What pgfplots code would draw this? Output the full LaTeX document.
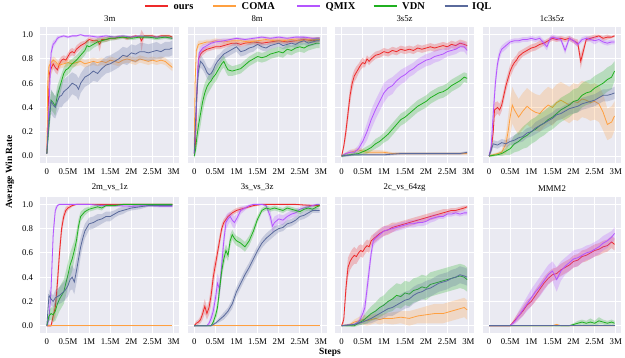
\documentclass[border=0pt]{standalone}
\usepackage{fontspec}
\setmainfont{Liberation Serif}
\usepackage{pgfplots}
\pgfplotsset{compat=1.18}
\usepackage{pgfplotstable}

\definecolor{bgc}{HTML}{EAEAF2}
\definecolor{cours}{HTML}{EE2A2A}
\definecolor{ccoma}{HTML}{FFA040}
\definecolor{cqmix}{HTML}{B455FF}
\definecolor{cvdn}{HTML}{20B020}
\definecolor{ciql}{HTML}{5A6A9C}

% band outline: y+s forward, then y-s backward
\newcommand{\mkband}[2]{%
  \pgfplotstablesort[sort key=x, sort cmp=float <]{#2}{#1}%
  \pgfplotstablecreatecol[create col/expr={\thisrow{y}+\thisrow{s}}]{p}{#2}%
  \pgfplotstablesort[sort key=x, sort cmp=float >]{\mkbandtmp}{#1}%
  \pgfplotstablecreatecol[create col/expr={\thisrow{y}-\thisrow{s}}]{p}{\mkbandtmp}%
  \pgfplotstablevertcat{#2}{\mkbandtmp}%
}

% ---------------- 3m ----------------
\pgfplotstableread[row sep=\\]{x y s\\
0 0.02 0.02\\ 0.03 0.35 0.1\\ 0.06 0.68 0.06\\ 0.1 0.72 0.05\\ 0.15 0.76 0.04\\ 0.2 0.73 0.04\\ 0.25 0.71 0.04\\ 0.3 0.76 0.04\\ 0.35 0.79 0.03\\ 0.4 0.80 0.03\\ 0.45 0.79 0.03\\ 0.5 0.82 0.03\\ 0.55 0.85 0.03\\ 0.6 0.86 0.03\\ 0.65 0.85 0.03\\ 0.7 0.88 0.03\\ 0.8 0.91 0.03\\ 0.9 0.93 0.02\\ 1.0 0.96 0.02\\ 1.1 0.95 0.02\\ 1.2 0.95 0.02\\ 1.25 0.92 0.06\\ 1.3 0.96 0.02\\ 1.4 0.96 0.02\\ 1.5 0.97 0.015\\ 1.6 0.97 0.015\\ 1.7 0.98 0.015\\ 1.8 0.98 0.01\\ 1.9 0.97 0.015\\ 2.0 0.98 0.01\\ 2.1 0.99 0.01\\ 2.2 0.98 0.01\\ 2.24 0.95 0.09\\ 2.3 0.99 0.01\\ 2.4 0.99 0.01\\ 2.5 0.99 0.01\\ 2.6 0.98 0.01\\ 2.7 0.99 0.01\\ 2.8 0.99 0.01\\ 2.9 0.99 0.01\\ 2.97 0.98 0.01\\
}\Aours
\pgfplotstableread[row sep=\\]{x y s\\
0 0.02 0.02\\ 0.02 0.6 0.1\\ 0.05 0.74 0.04\\ 0.1 0.77 0.03\\ 0.15 0.79 0.03\\ 0.2 0.78 0.03\\ 0.25 0.76 0.03\\ 0.3 0.75 0.03\\ 0.4 0.76 0.03\\ 0.5 0.77 0.03\\ 0.6 0.76 0.03\\ 0.7 0.77 0.03\\ 0.8 0.78 0.03\\ 0.9 0.76 0.03\\ 1.0 0.77 0.03\\ 1.1 0.78 0.03\\ 1.2 0.77 0.03\\ 1.3 0.78 0.03\\ 1.4 0.77 0.03\\ 1.5 0.79 0.03\\ 1.6 0.78 0.03\\ 1.7 0.77 0.03\\ 1.8 0.79 0.03\\ 1.9 0.80 0.03\\ 2.0 0.79 0.03\\ 2.1 0.78 0.03\\ 2.2 0.80 0.03\\ 2.3 0.79 0.03\\ 2.4 0.78 0.03\\ 2.5 0.79 0.03\\ 2.6 0.78 0.03\\ 2.7 0.79 0.03\\ 2.8 0.78 0.03\\ 2.9 0.75 0.03\\ 2.97 0.73 0.03\\
}\Acoma
\pgfplotstableread[row sep=\\]{x y s\\
0 0.02 0.02\\ 0.05 0.4 0.1\\ 0.1 0.85 0.05\\ 0.15 0.92 0.03\\ 0.2 0.94 0.02\\ 0.25 0.97 0.02\\ 0.3 0.98 0.01\\ 0.4 0.99 0.01\\ 0.5 0.98 0.01\\ 0.6 0.99 0.01\\ 0.7 0.99 0.01\\ 0.8 1.0 0.005\\ 0.9 0.99 0.01\\ 1.0 0.99 0.01\\ 1.2 0.98 0.01\\ 1.4 0.99 0.01\\ 1.6 0.98 0.01\\ 1.8 0.99 0.01\\ 2.0 0.98 0.01\\ 2.2 0.99 0.01\\ 2.4 0.98 0.01\\ 2.6 0.98 0.01\\ 2.8 0.98 0.01\\ 2.97 0.97 0.01\\
}\Aqmix
\pgfplotstableread[row sep=\\]{x y s\\
0 0.02 0.02\\ 0.05 0.25 0.08\\ 0.1 0.46 0.08\\ 0.15 0.44 0.08\\ 0.2 0.41 0.08\\ 0.25 0.50 0.08\\ 0.3 0.56 0.07\\ 0.35 0.62 0.06\\ 0.4 0.68 0.05\\ 0.45 0.71 0.05\\ 0.5 0.72 0.05\\ 0.55 0.74 0.05\\ 0.6 0.76 0.04\\ 0.7 0.79 0.04\\ 0.8 0.83 0.04\\ 0.9 0.87 0.04\\ 0.95 0.91 0.05\\ 1.0 0.90 0.04\\ 1.1 0.92 0.03\\ 1.2 0.94 0.03\\ 1.3 0.95 0.02\\ 1.4 0.96 0.02\\ 1.5 0.97 0.02\\ 1.6 0.97 0.015\\ 1.8 0.98 0.015\\ 2.0 0.97 0.015\\ 2.2 0.98 0.015\\ 2.4 0.98 0.015\\ 2.6 0.97 0.015\\ 2.8 0.98 0.015\\ 2.97 0.97 0.015\\
}\Avdn
\pgfplotstableread[row sep=\\]{x y s\\
0 0.02 0.02\\ 0.05 0.3 0.1\\ 0.1 0.45 0.1\\ 0.15 0.42 0.1\\ 0.2 0.40 0.09\\ 0.25 0.45 0.09\\ 0.3 0.49 0.09\\ 0.35 0.50 0.1\\ 0.4 0.53 0.1\\ 0.5 0.56 0.1\\ 0.6 0.60 0.09\\ 0.7 0.58 0.09\\ 0.75 0.55 0.09\\ 0.8 0.60 0.08\\ 0.9 0.65 0.08\\ 1.0 0.67 0.08\\ 1.1 0.70 0.08\\ 1.2 0.68 0.07\\ 1.3 0.72 0.07\\ 1.4 0.75 0.07\\ 1.5 0.76 0.07\\ 1.6 0.78 0.07\\ 1.7 0.80 0.07\\ 1.8 0.83 0.07\\ 1.9 0.82 0.07\\ 2.0 0.85 0.07\\ 2.1 0.84 0.07\\ 2.2 0.86 0.07\\ 2.3 0.86 0.07\\ 2.4 0.85 0.07\\ 2.5 0.86 0.07\\ 2.6 0.87 0.07\\ 2.7 0.86 0.06\\ 2.8 0.88 0.06\\ 2.9 0.88 0.06\\ 2.97 0.89 0.06\\
}\Aiql

% ---------------- 8m ----------------
\pgfplotstableread[row sep=\\]{x y s\\
0 0.02 0.02\\ 0.03 0.1 0.05\\ 0.06 0.5 0.1\\ 0.1 0.80 0.05\\ 0.15 0.84 0.03\\ 0.2 0.86 0.03\\ 0.3 0.88 0.02\\ 0.4 0.89 0.02\\ 0.5 0.90 0.02\\ 0.6 0.90 0.02\\ 0.7 0.91 0.02\\ 0.8 0.92 0.02\\ 0.9 0.93 0.02\\ 1.0 0.93 0.02\\ 1.1 0.92 0.02\\ 1.2 0.93 0.02\\ 1.4 0.94 0.02\\ 1.6 0.93 0.02\\ 1.8 0.94 0.02\\ 2.0 0.95 0.02\\ 2.2 0.94 0.02\\ 2.4 0.95 0.02\\ 2.6 0.96 0.02\\ 2.8 0.95 0.02\\ 2.97 0.96 0.02\\
}\Bours
\pgfplotstableread[row sep=\\]{x y s\\
0 0.05 0.05\\ 0.02 0.6 0.1\\ 0.05 0.87 0.04\\ 0.1 0.92 0.03\\ 0.2 0.93 0.02\\ 0.3 0.94 0.02\\ 0.4 0.94 0.02\\ 0.5 0.95 0.02\\ 0.7 0.94 0.02\\ 0.9 0.95 0.02\\ 1.1 0.95 0.02\\ 1.3 0.94 0.02\\ 1.5 0.95 0.02\\ 1.7 0.96 0.02\\ 1.9 0.95 0.02\\ 2.1 0.95 0.02\\ 2.3 0.96 0.02\\ 2.5 0.95 0.02\\ 2.7 0.96 0.02\\ 2.97 0.96 0.02\\
}\Bcoma
\pgfplotstableread[row sep=\\]{x y s\\
0 0.02 0.02\\ 0.04 0.3 0.1\\ 0.08 0.70 0.08\\ 0.12 0.85 0.04\\ 0.2 0.89 0.03\\ 0.3 0.91 0.02\\ 0.4 0.93 0.02\\ 0.5 0.94 0.02\\ 0.7 0.95 0.02\\ 0.85 0.96 0.01\\ 1.0 0.97 0.01\\ 1.2 0.96 0.01\\ 1.4 0.97 0.01\\ 1.6 0.98 0.01\\ 1.8 0.97 0.01\\ 2.0 0.98 0.01\\ 2.2 0.97 0.01\\ 2.4 0.98 0.01\\ 2.6 0.98 0.01\\ 2.8 0.97 0.01\\ 2.97 0.97 0.01\\
}\Bqmix
\pgfplotstableread[row sep=\\]{x y s\\
0 0.0 0.02\\ 0.03 0.05 0.04\\ 0.06 0.15 0.08\\ 0.1 0.25 0.1\\ 0.15 0.35 0.1\\ 0.2 0.45 0.09\\ 0.25 0.52 0.08\\ 0.3 0.57 0.07\\ 0.35 0.60 0.07\\ 0.4 0.62 0.06\\ 0.45 0.65 0.06\\ 0.5 0.67 0.06\\ 0.55 0.70 0.06\\ 0.6 0.73 0.05\\ 0.65 0.76 0.05\\ 0.7 0.78 0.05\\ 0.75 0.74 0.05\\ 0.8 0.71 0.05\\ 0.9 0.70 0.04\\ 1.0 0.71 0.04\\ 1.1 0.72 0.04\\ 1.2 0.75 0.04\\ 1.3 0.78 0.04\\ 1.4 0.80 0.04\\ 1.5 0.82 0.04\\ 1.6 0.81 0.04\\ 1.7 0.82 0.04\\ 1.8 0.84 0.04\\ 1.9 0.85 0.04\\ 2.0 0.86 0.04\\ 2.1 0.85 0.04\\ 2.2 0.88 0.04\\ 2.3 0.87 0.04\\ 2.4 0.89 0.04\\ 2.5 0.90 0.04\\ 2.6 0.89 0.04\\ 2.7 0.91 0.04\\ 2.8 0.92 0.04\\ 2.9 0.93 0.04\\ 2.97 0.93 0.04\\
}\Bvdn
\pgfplotstableread[row sep=\\]{x y s\\
0 0.02 0.02\\ 0.05 0.45 0.1\\ 0.1 0.70 0.06\\ 0.15 0.78 0.05\\ 0.2 0.76 0.05\\ 0.25 0.73 0.05\\ 0.3 0.69 0.05\\ 0.35 0.67 0.05\\ 0.4 0.68 0.05\\ 0.45 0.71 0.05\\ 0.5 0.75 0.05\\ 0.55 0.78 0.05\\ 0.6 0.80 0.04\\ 0.7 0.84 0.04\\ 0.8 0.86 0.04\\ 0.9 0.88 0.04\\ 1.0 0.90 0.04\\ 1.1 0.86 0.04\\ 1.2 0.87 0.04\\ 1.3 0.89 0.04\\ 1.4 0.90 0.04\\ 1.5 0.92 0.03\\ 1.6 0.90 0.03\\ 1.7 0.89 0.03\\ 1.8 0.91 0.03\\ 1.9 0.92 0.03\\ 2.0 0.93 0.03\\ 2.1 0.91 0.03\\ 2.2 0.92 0.03\\ 2.3 0.93 0.03\\ 2.4 0.92 0.03\\ 2.5 0.94 0.03\\ 2.6 0.95 0.03\\ 2.7 0.93 0.03\\ 2.8 0.94 0.03\\ 2.9 0.95 0.03\\ 2.97 0.95 0.03\\
}\Biql

% ---------------- 3s5z ----------------
\pgfplotstableread[row sep=\\]{x y s\\
0 0.0 0.01\\ 0.05 0.08 0.03\\ 0.1 0.20 0.06\\ 0.15 0.35 0.07\\ 0.2 0.50 0.07\\ 0.25 0.60 0.06\\ 0.3 0.66 0.05\\ 0.35 0.69 0.05\\ 0.4 0.72 0.04\\ 0.45 0.75 0.04\\ 0.5 0.77 0.04\\ 0.55 0.76 0.03\\ 0.6 0.80 0.03\\ 0.65 0.78 0.03\\ 0.7 0.80 0.03\\ 0.8 0.83 0.03\\ 0.9 0.84 0.03\\ 1.0 0.86 0.03\\ 1.1 0.85 0.03\\ 1.2 0.87 0.03\\ 1.3 0.86 0.03\\ 1.4 0.88 0.03\\ 1.5 0.87 0.03\\ 1.6 0.88 0.03\\ 1.7 0.87 0.03\\ 1.8 0.89 0.03\\ 1.9 0.88 0.03\\ 2.0 0.89 0.03\\ 2.1 0.90 0.03\\ 2.2 0.89 0.03\\ 2.3 0.90 0.03\\ 2.4 0.91 0.03\\ 2.5 0.90 0.03\\ 2.6 0.92 0.03\\ 2.7 0.91 0.03\\ 2.8 0.93 0.03\\ 2.9 0.92 0.03\\ 2.97 0.91 0.03\\
}\Cours
\pgfplotstableread[row sep=\\]{x y s\\
0 0.0 0.01\\ 0.1 0.02 0.01\\ 0.2 0.03 0.02\\ 0.3 0.04 0.02\\ 0.4 0.05 0.02\\ 0.5 0.04 0.02\\ 0.6 0.03 0.02\\ 0.8 0.03 0.02\\ 1.0 0.03 0.015\\ 1.2 0.02 0.01\\ 1.5 0.02 0.01\\ 1.8 0.02 0.01\\ 2.0 0.02 0.01\\ 2.3 0.02 0.01\\ 2.6 0.02 0.01\\ 2.97 0.02 0.01\\
}\Ccoma
\pgfplotstableread[row sep=\\]{x y s\\
0 0.0 0.01\\ 0.1 0.02 0.01\\ 0.2 0.03 0.02\\ 0.3 0.03 0.02\\ 0.4 0.06 0.03\\ 0.5 0.12 0.05\\ 0.55 0.16 0.06\\ 0.6 0.20 0.07\\ 0.7 0.30 0.08\\ 0.8 0.38 0.08\\ 0.9 0.45 0.08\\ 1.0 0.52 0.08\\ 1.1 0.56 0.07\\ 1.2 0.58 0.07\\ 1.3 0.62 0.06\\ 1.4 0.65 0.06\\ 1.5 0.67 0.06\\ 1.6 0.70 0.05\\ 1.7 0.72 0.05\\ 1.8 0.75 0.05\\ 1.9 0.77 0.05\\ 2.0 0.79 0.05\\ 2.1 0.80 0.05\\ 2.2 0.82 0.05\\ 2.3 0.83 0.05\\ 2.4 0.84 0.04\\ 2.5 0.86 0.04\\ 2.6 0.87 0.04\\ 2.7 0.88 0.04\\ 2.8 0.90 0.04\\ 2.9 0.90 0.04\\ 2.97 0.87 0.04\\
}\Cqmix
\pgfplotstableread[row sep=\\]{x y s\\
0 0.0 0.01\\ 0.2 0.01 0.01\\ 0.4 0.02 0.02\\ 0.6 0.05 0.03\\ 0.7 0.07 0.03\\ 0.8 0.10 0.04\\ 0.9 0.12 0.04\\ 1.0 0.15 0.04\\ 1.1 0.18 0.05\\ 1.2 0.22 0.05\\ 1.3 0.26 0.05\\ 1.4 0.30 0.05\\ 1.5 0.32 0.05\\ 1.6 0.35 0.05\\ 1.7 0.38 0.05\\ 1.8 0.41 0.05\\ 1.9 0.43 0.05\\ 2.0 0.45 0.05\\ 2.1 0.48 0.05\\ 2.2 0.50 0.05\\ 2.3 0.52 0.05\\ 2.4 0.53 0.05\\ 2.5 0.55 0.05\\ 2.6 0.58 0.05\\ 2.7 0.60 0.05\\ 2.8 0.62 0.05\\ 2.9 0.65 0.04\\ 2.97 0.64 0.04\\
}\Cvdn
\pgfplotstableread[row sep=\\]{x y s\\
0 0.0 0.01\\ 0.3 0.01 0.01\\ 0.6 0.01 0.01\\ 1.0 0.01 0.01\\ 1.4 0.02 0.01\\ 1.8 0.02 0.01\\ 2.2 0.02 0.01\\ 2.6 0.02 0.01\\ 2.8 0.02 0.01\\ 2.97 0.03 0.01\\
}\Ciql

% ---------------- 1c3s5z ----------------
\pgfplotstableread[row sep=\\]{x y s\\
0 0.0 0.01\\ 0.05 0.05 0.02\\ 0.1 0.20 0.06\\ 0.13 0.38 0.06\\ 0.2 0.40 0.05\\ 0.25 0.38 0.05\\ 0.3 0.42 0.05\\ 0.35 0.50 0.05\\ 0.4 0.58 0.05\\ 0.45 0.64 0.05\\ 0.5 0.70 0.05\\ 0.55 0.74 0.05\\ 0.6 0.77 0.04\\ 0.65 0.79 0.04\\ 0.7 0.82 0.04\\ 0.8 0.85 0.03\\ 0.9 0.87 0.03\\ 1.0 0.89 0.03\\ 1.1 0.90 0.03\\ 1.2 0.92 0.03\\ 1.3 0.93 0.02\\ 1.4 0.95 0.02\\ 1.5 0.97 0.02\\ 1.6 0.96 0.02\\ 1.7 0.97 0.02\\ 1.8 0.96 0.02\\ 1.9 0.97 0.02\\ 2.0 0.95 0.02\\ 2.1 0.93 0.03\\ 2.17 0.78 0.06\\ 2.3 0.96 0.02\\ 2.4 0.97 0.02\\ 2.5 0.98 0.02\\ 2.6 0.99 0.01\\ 2.7 0.97 0.02\\ 2.8 0.98 0.02\\ 2.9 0.98 0.01\\ 2.97 0.99 0.01\\
}\Dours
\pgfplotstableread[row sep=\\]{x y s\\
0 0.0 0.01\\ 0.2 0.02 0.01\\ 0.3 0.03 0.02\\ 0.4 0.10 0.08\\ 0.45 0.20 0.12\\ 0.5 0.32 0.15\\ 0.55 0.42 0.15\\ 0.6 0.38 0.15\\ 0.7 0.32 0.15\\ 0.8 0.37 0.15\\ 0.9 0.41 0.15\\ 1.0 0.38 0.15\\ 1.1 0.36 0.15\\ 1.2 0.35 0.15\\ 1.3 0.39 0.15\\ 1.4 0.42 0.15\\ 1.5 0.40 0.15\\ 1.6 0.44 0.15\\ 1.7 0.46 0.15\\ 1.8 0.44 0.15\\ 1.9 0.42 0.15\\ 2.0 0.45 0.15\\ 2.1 0.44 0.15\\ 2.2 0.47 0.15\\ 2.3 0.46 0.15\\ 2.4 0.44 0.15\\ 2.5 0.45 0.15\\ 2.6 0.43 0.15\\ 2.7 0.36 0.15\\ 2.8 0.26 0.13\\ 2.9 0.28 0.13\\ 2.97 0.33 0.12\\
}\Dcoma
\pgfplotstableread[row sep=\\]{x y s\\
0 0.0 0.01\\ 0.05 0.08 0.04\\ 0.1 0.35 0.1\\ 0.15 0.60 0.08\\ 0.2 0.76 0.05\\ 0.25 0.84 0.04\\ 0.3 0.88 0.03\\ 0.4 0.91 0.03\\ 0.5 0.94 0.02\\ 0.6 0.95 0.02\\ 0.7 0.95 0.02\\ 0.8 0.96 0.02\\ 0.9 0.96 0.02\\ 1.0 0.97 0.02\\ 1.1 0.96 0.02\\ 1.2 0.97 0.02\\ 1.37 0.90 0.03\\ 1.45 0.97 0.02\\ 1.5 0.98 0.02\\ 1.6 0.97 0.02\\ 1.7 0.96 0.02\\ 1.8 0.87 0.03\\ 1.9 0.97 0.02\\ 2.0 0.95 0.02\\ 2.1 0.92 0.02\\ 2.2 0.96 0.02\\ 2.3 0.97 0.02\\ 2.4 0.96 0.02\\ 2.5 0.95 0.03\\ 2.6 0.96 0.02\\ 2.7 0.94 0.02\\ 2.8 0.93 0.02\\ 2.9 0.94 0.02\\ 2.97 0.94 0.02\\
}\Dqmix
\pgfplotstableread[row sep=\\]{x y s\\
0 0.0 0.01\\ 0.2 0.01 0.01\\ 0.3 0.02 0.02\\ 0.4 0.04 0.03\\ 0.5 0.06 0.05\\ 0.6 0.10 0.07\\ 0.7 0.12 0.08\\ 0.8 0.15 0.09\\ 0.9 0.17 0.1\\ 1.0 0.20 0.1\\ 1.1 0.22 0.1\\ 1.2 0.25 0.1\\ 1.3 0.27 0.1\\ 1.4 0.30 0.1\\ 1.5 0.32 0.1\\ 1.6 0.35 0.1\\ 1.7 0.38 0.1\\ 1.8 0.40 0.1\\ 1.9 0.42 0.1\\ 2.0 0.45 0.1\\ 2.1 0.46 0.1\\ 2.2 0.50 0.1\\ 2.3 0.52 0.1\\ 2.4 0.53 0.1\\ 2.5 0.56 0.1\\ 2.6 0.58 0.1\\ 2.7 0.60 0.1\\ 2.8 0.63 0.1\\ 2.9 0.65 0.1\\ 2.97 0.70 0.08\\
}\Dvdn
\pgfplotstableread[row sep=\\]{x y s\\
0 0.0 0.01\\ 0.05 0.05 0.03\\ 0.1 0.10 0.03\\ 0.2 0.09 0.03\\ 0.3 0.11 0.03\\ 0.4 0.10 0.03\\ 0.5 0.12 0.03\\ 0.6 0.13 0.04\\ 0.7 0.15 0.04\\ 0.8 0.16 0.04\\ 0.9 0.19 0.04\\ 1.0 0.20 0.04\\ 1.1 0.23 0.05\\ 1.2 0.25 0.05\\ 1.3 0.27 0.05\\ 1.4 0.29 0.05\\ 1.5 0.31 0.05\\ 1.6 0.34 0.05\\ 1.7 0.35 0.05\\ 1.8 0.37 0.05\\ 1.9 0.39 0.05\\ 2.0 0.40 0.05\\ 2.1 0.41 0.05\\ 2.2 0.43 0.05\\ 2.3 0.44 0.05\\ 2.4 0.45 0.05\\ 2.5 0.46 0.05\\ 2.6 0.48 0.05\\ 2.7 0.50 0.05\\ 2.8 0.50 0.05\\ 2.9 0.51 0.05\\ 2.97 0.52 0.05\\
}\Diql

% ---------------- 2m_vs_1z ----------------
\pgfplotstableread[row sep=\\]{x y s\\
0 0.0 0.01\\ 0.1 0.0 0.01\\ 0.15 0.08 0.05\\ 0.2 0.15 0.08\\ 0.25 0.35 0.1\\ 0.3 0.60 0.08\\ 0.35 0.80 0.06\\ 0.4 0.90 0.04\\ 0.45 0.95 0.03\\ 0.5 0.97 0.02\\ 0.6 0.99 0.01\\ 0.7 1.0 0.005\\ 1.0 1.0 0.005\\ 1.5 1.0 0.005\\ 2.0 1.0 0.005\\ 2.5 1.0 0.005\\ 2.97 1.0 0.005\\
}\Eours
\pgfplotstableread[row sep=\\]{x y s\\
0 0.0 0.003\\ 1.0 0.0 0.003\\ 2.0 0.0 0.003\\ 2.97 0.0 0.003\\
}\Ecoma
\pgfplotstableread[row sep=\\]{x y s\\
0 0.0 0.01\\ 0.05 0.05 0.04\\ 0.1 0.30 0.1\\ 0.15 0.75 0.08\\ 0.2 0.95 0.03\\ 0.25 0.99 0.01\\ 0.3 1.0 0.005\\ 0.6 1.0 0.005\\ 1.0 1.0 0.005\\ 1.3 0.99 0.01\\ 1.6 0.99 0.01\\ 2.0 0.985 0.01\\ 2.4 0.99 0.01\\ 2.7 0.985 0.01\\ 2.97 0.985 0.01\\
}\Eqmix
\pgfplotstableread[row sep=\\]{x y s\\
0 0.0 0.01\\ 0.05 0.08 0.04\\ 0.1 0.10 0.05\\ 0.15 0.09 0.06\\ 0.2 0.12 0.08\\ 0.25 0.18 0.1\\ 0.3 0.22 0.1\\ 0.35 0.25 0.1\\ 0.4 0.28 0.1\\ 0.45 0.35 0.1\\ 0.5 0.42 0.1\\ 0.55 0.50 0.1\\ 0.6 0.55 0.1\\ 0.65 0.62 0.08\\ 0.7 0.70 0.08\\ 0.75 0.82 0.06\\ 0.8 0.90 0.04\\ 0.9 0.94 0.03\\ 1.0 0.96 0.02\\ 1.1 0.97 0.02\\ 1.2 0.98 0.02\\ 1.3 0.97 0.02\\ 1.4 0.99 0.01\\ 1.6 0.99 0.01\\ 1.8 1.0 0.005\\ 2.2 1.0 0.005\\ 2.6 1.0 0.005\\ 2.97 1.0 0.005\\
}\Evdn
\pgfplotstableread[row sep=\\]{x y s\\
0 0.0 0.01\\ 0.05 0.25 0.05\\ 0.1 0.22 0.05\\ 0.15 0.20 0.05\\ 0.2 0.23 0.06\\ 0.3 0.25 0.07\\ 0.4 0.28 0.08\\ 0.45 0.30 0.08\\ 0.5 0.33 0.09\\ 0.55 0.38 0.09\\ 0.6 0.40 0.1\\ 0.65 0.36 0.1\\ 0.7 0.45 0.1\\ 0.75 0.55 0.1\\ 0.8 0.65 0.08\\ 0.85 0.72 0.07\\ 0.9 0.78 0.06\\ 1.0 0.84 0.05\\ 1.1 0.85 0.05\\ 1.2 0.87 0.05\\ 1.3 0.88 0.04\\ 1.4 0.90 0.04\\ 1.5 0.90 0.04\\ 1.6 0.92 0.03\\ 1.7 0.94 0.03\\ 1.8 0.95 0.03\\ 1.9 0.96 0.02\\ 2.0 0.97 0.02\\ 2.2 0.98 0.02\\ 2.4 0.99 0.01\\ 2.6 0.99 0.01\\ 2.8 0.99 0.01\\ 2.97 0.99 0.01\\
}\Eiql

% ---------------- 3s_vs_3z ----------------
\pgfplotstableread[row sep=\\]{x y s\\
0 0.0 0.01\\ 0.05 0.02 0.02\\ 0.1 0.03 0.02\\ 0.15 0.05 0.03\\ 0.2 0.10 0.05\\ 0.25 0.16 0.06\\ 0.3 0.10 0.05\\ 0.35 0.15 0.06\\ 0.4 0.25 0.08\\ 0.45 0.40 0.08\\ 0.5 0.50 0.07\\ 0.55 0.60 0.06\\ 0.6 0.70 0.05\\ 0.65 0.80 0.04\\ 0.7 0.85 0.03\\ 0.8 0.90 0.02\\ 0.9 0.93 0.02\\ 1.0 0.95 0.02\\ 1.1 0.96 0.02\\ 1.2 0.97 0.01\\ 1.3 0.98 0.01\\ 1.4 0.99 0.01\\ 1.6 1.0 0.005\\ 2.0 1.0 0.005\\ 2.4 1.0 0.005\\ 2.8 0.99 0.01\\ 2.97 0.99 0.01\\
}\Fours
\pgfplotstableread[row sep=\\]{x y s\\
0 0.0 0.003\\ 1.0 0.0 0.003\\ 2.0 0.0 0.003\\ 2.97 0.0 0.003\\
}\Fcoma
\pgfplotstableread[row sep=\\]{x y s\\
0 0.0 0.005\\ 0.3 0.0 0.005\\ 0.35 0.02 0.02\\ 0.4 0.06 0.04\\ 0.45 0.12 0.06\\ 0.5 0.22 0.08\\ 0.55 0.35 0.08\\ 0.6 0.30 0.08\\ 0.65 0.50 0.1\\ 0.7 0.70 0.08\\ 0.75 0.85 0.06\\ 0.8 0.88 0.05\\ 0.85 0.90 0.04\\ 0.9 0.87 0.05\\ 0.95 0.85 0.05\\ 1.0 0.88 0.04\\ 1.1 0.95 0.03\\ 1.2 0.97 0.02\\ 1.3 0.99 0.01\\ 1.4 1.0 0.005\\ 1.5 1.0 0.005\\ 1.6 1.0 0.005\\ 1.7 0.99 0.01\\ 1.8 0.90 0.05\\ 1.85 0.82 0.05\\ 1.9 0.85 0.05\\ 2.0 0.88 0.04\\ 2.1 0.87 0.04\\ 2.2 0.90 0.03\\ 2.3 0.92 0.03\\ 2.4 0.93 0.03\\ 2.5 0.96 0.02\\ 2.6 0.97 0.02\\ 2.7 0.98 0.02\\ 2.8 0.99 0.01\\ 2.9 1.0 0.005\\ 2.97 1.0 0.005\\
}\Fqmix
\pgfplotstableread[row sep=\\]{x y s\\
0 0.0 0.005\\ 0.4 0.0 0.005\\ 0.45 0.03 0.02\\ 0.5 0.08 0.04\\ 0.55 0.15 0.05\\ 0.6 0.30 0.06\\ 0.65 0.45 0.06\\ 0.7 0.55 0.06\\ 0.75 0.62 0.05\\ 0.8 0.58 0.05\\ 0.85 0.70 0.05\\ 0.9 0.75 0.04\\ 0.95 0.72 0.04\\ 1.0 0.70 0.04\\ 1.1 0.68 0.04\\ 1.2 0.65 0.04\\ 1.3 0.70 0.04\\ 1.4 0.78 0.04\\ 1.5 0.88 0.03\\ 1.6 0.95 0.02\\ 1.7 0.97 0.02\\ 1.8 0.96 0.02\\ 1.9 0.97 0.02\\ 2.0 0.96 0.02\\ 2.1 0.95 0.02\\ 2.2 0.97 0.02\\ 2.3 0.96 0.02\\ 2.4 0.95 0.02\\ 2.5 0.94 0.02\\ 2.6 0.96 0.02\\ 2.7 0.97 0.02\\ 2.8 0.96 0.02\\ 2.9 0.98 0.02\\ 2.97 0.99 0.01\\
}\Fvdn
\pgfplotstableread[row sep=\\]{x y s\\
0 0.0 0.005\\ 0.4 0.0 0.005\\ 0.5 0.02 0.01\\ 0.6 0.05 0.02\\ 0.7 0.08 0.03\\ 0.8 0.12 0.03\\ 0.9 0.18 0.04\\ 1.0 0.28 0.04\\ 1.1 0.35 0.04\\ 1.2 0.42 0.04\\ 1.3 0.48 0.04\\ 1.4 0.55 0.04\\ 1.5 0.62 0.04\\ 1.6 0.68 0.04\\ 1.7 0.72 0.04\\ 1.8 0.75 0.04\\ 1.9 0.78 0.04\\ 2.0 0.80 0.03\\ 2.1 0.81 0.03\\ 2.2 0.84 0.03\\ 2.3 0.85 0.03\\ 2.4 0.87 0.03\\ 2.5 0.90 0.03\\ 2.6 0.91 0.03\\ 2.7 0.93 0.03\\ 2.8 0.95 0.02\\ 2.9 0.95 0.02\\ 2.97 0.95 0.02\\
}\Fiql

% ---------------- 2c_vs_64zg ----------------
\pgfplotstableread[row sep=\\]{x y s\\
0 0.0 0.01\\ 0.05 0.05 0.03\\ 0.1 0.30 0.08\\ 0.15 0.48 0.08\\ 0.2 0.53 0.07\\ 0.25 0.56 0.07\\ 0.3 0.58 0.07\\ 0.35 0.57 0.06\\ 0.4 0.60 0.06\\ 0.45 0.62 0.05\\ 0.5 0.61 0.05\\ 0.55 0.64 0.05\\ 0.6 0.66 0.05\\ 0.65 0.65 0.05\\ 0.7 0.70 0.04\\ 0.8 0.73 0.04\\ 0.9 0.76 0.04\\ 1.0 0.78 0.04\\ 1.1 0.79 0.04\\ 1.2 0.81 0.04\\ 1.3 0.82 0.03\\ 1.4 0.83 0.03\\ 1.5 0.84 0.03\\ 1.6 0.85 0.03\\ 1.7 0.86 0.03\\ 1.8 0.87 0.03\\ 1.9 0.88 0.03\\ 2.0 0.89 0.03\\ 2.1 0.90 0.03\\ 2.2 0.91 0.03\\ 2.3 0.92 0.03\\ 2.4 0.93 0.03\\ 2.5 0.94 0.02\\ 2.6 0.95 0.02\\ 2.7 0.95 0.02\\ 2.8 0.96 0.02\\ 2.9 0.97 0.02\\ 2.97 0.98 0.01\\
}\Gours
\pgfplotstableread[row sep=\\]{x y s\\
0 0.0 0.005\\ 0.2 0.01 0.01\\ 0.3 0.03 0.02\\ 0.4 0.04 0.03\\ 0.5 0.05 0.04\\ 0.6 0.04 0.04\\ 0.7 0.05 0.04\\ 0.8 0.06 0.04\\ 0.9 0.05 0.04\\ 1.0 0.06 0.04\\ 1.2 0.06 0.05\\ 1.4 0.07 0.05\\ 1.6 0.06 0.06\\ 1.8 0.08 0.06\\ 2.0 0.09 0.07\\ 2.2 0.10 0.08\\ 2.4 0.10 0.08\\ 2.6 0.12 0.08\\ 2.8 0.14 0.08\\ 2.9 0.15 0.08\\ 2.97 0.13 0.08\\
}\Gcoma
\pgfplotstableread[row sep=\\]{x y s\\
0 0.0 0.005\\ 0.3 0.01 0.01\\ 0.4 0.03 0.02\\ 0.45 0.06 0.04\\ 0.5 0.10 0.06\\ 0.55 0.15 0.07\\ 0.6 0.30 0.08\\ 0.65 0.45 0.08\\ 0.7 0.60 0.06\\ 0.75 0.70 0.05\\ 0.8 0.72 0.04\\ 0.9 0.75 0.04\\ 1.0 0.78 0.04\\ 1.1 0.79 0.03\\ 1.2 0.80 0.03\\ 1.3 0.81 0.03\\ 1.4 0.82 0.03\\ 1.5 0.83 0.03\\ 1.6 0.84 0.03\\ 1.7 0.84 0.03\\ 1.8 0.85 0.03\\ 1.9 0.85 0.03\\ 2.0 0.86 0.03\\ 2.1 0.88 0.03\\ 2.2 0.89 0.03\\ 2.3 0.90 0.02\\ 2.4 0.90 0.02\\ 2.5 0.92 0.02\\ 2.6 0.92 0.02\\ 2.7 0.93 0.02\\ 2.8 0.92 0.02\\ 2.9 0.93 0.02\\ 2.97 0.93 0.02\\
}\Gqmix
\pgfplotstableread[row sep=\\]{x y s\\
0 0.0 0.005\\ 0.3 0.0 0.01\\ 0.4 0.02 0.02\\ 0.5 0.04 0.03\\ 0.6 0.07 0.05\\ 0.7 0.10 0.06\\ 0.8 0.12 0.07\\ 0.9 0.15 0.08\\ 1.0 0.17 0.08\\ 1.1 0.20 0.09\\ 1.2 0.22 0.1\\ 1.3 0.25 0.1\\ 1.4 0.24 0.1\\ 1.5 0.27 0.1\\ 1.6 0.26 0.1\\ 1.7 0.29 0.1\\ 1.8 0.30 0.1\\ 1.9 0.32 0.1\\ 2.0 0.31 0.1\\ 2.1 0.34 0.1\\ 2.2 0.35 0.1\\ 2.3 0.36 0.1\\ 2.4 0.37 0.1\\ 2.5 0.38 0.1\\ 2.6 0.39 0.1\\ 2.7 0.40 0.1\\ 2.8 0.41 0.1\\ 2.9 0.40 0.1\\ 2.97 0.38 0.1\\
}\Gvdn
\pgfplotstableread[row sep=\\]{x y s\\
0 0.0 0.005\\ 0.3 0.01 0.01\\ 0.5 0.03 0.02\\ 0.7 0.06 0.04\\ 0.9 0.10 0.05\\ 1.0 0.12 0.06\\ 1.1 0.14 0.06\\ 1.2 0.15 0.07\\ 1.3 0.17 0.07\\ 1.4 0.19 0.07\\ 1.5 0.21 0.07\\ 1.6 0.22 0.07\\ 1.7 0.25 0.07\\ 1.8 0.27 0.07\\ 1.9 0.28 0.07\\ 2.0 0.30 0.07\\ 2.1 0.31 0.07\\ 2.2 0.33 0.07\\ 2.3 0.35 0.07\\ 2.4 0.36 0.07\\ 2.5 0.37 0.07\\ 2.6 0.39 0.07\\ 2.7 0.40 0.07\\ 2.8 0.42 0.07\\ 2.9 0.41 0.07\\ 2.97 0.40 0.07\\
}\Giql

% ---------------- MMM2 ----------------
\pgfplotstableread[row sep=\\]{x y s\\
0 0.0 0.005\\ 0.5 0.0 0.005\\ 0.55 0.02 0.01\\ 0.6 0.04 0.02\\ 0.7 0.08 0.03\\ 0.8 0.12 0.04\\ 0.9 0.17 0.04\\ 1.0 0.20 0.04\\ 1.1 0.25 0.05\\ 1.2 0.30 0.05\\ 1.3 0.35 0.05\\ 1.4 0.39 0.05\\ 1.5 0.42 0.05\\ 1.6 0.43 0.05\\ 1.7 0.46 0.05\\ 1.8 0.48 0.05\\ 1.9 0.50 0.05\\ 2.0 0.53 0.05\\ 2.1 0.54 0.05\\ 2.2 0.57 0.05\\ 2.3 0.58 0.05\\ 2.4 0.60 0.05\\ 2.5 0.62 0.05\\ 2.6 0.63 0.05\\ 2.7 0.65 0.05\\ 2.8 0.66 0.05\\ 2.9 0.69 0.05\\ 2.97 0.67 0.05\\
}\Hours
\pgfplotstableread[row sep=\\]{x y s\\
0 0.0 0.003\\ 1.5 0.0 0.003\\ 1.6 0.01 0.005\\ 1.7 0.0 0.003\\ 2.5 0.0 0.003\\ 2.97 0.0 0.003\\
}\Hcoma
\pgfplotstableread[row sep=\\]{x y s\\
0 0.0 0.005\\ 0.5 0.0 0.005\\ 0.6 0.03 0.02\\ 0.7 0.08 0.04\\ 0.8 0.13 0.05\\ 0.9 0.18 0.06\\ 1.0 0.23 0.07\\ 1.1 0.28 0.07\\ 1.2 0.32 0.08\\ 1.3 0.37 0.08\\ 1.4 0.42 0.08\\ 1.5 0.45 0.08\\ 1.6 0.38 0.1\\ 1.7 0.45 0.08\\ 1.8 0.49 0.07\\ 1.9 0.52 0.07\\ 2.0 0.55 0.07\\ 2.1 0.56 0.07\\ 2.2 0.58 0.06\\ 2.3 0.60 0.06\\ 2.4 0.61 0.06\\ 2.5 0.63 0.06\\ 2.6 0.65 0.06\\ 2.7 0.68 0.06\\ 2.8 0.70 0.06\\ 2.9 0.73 0.05\\ 2.97 0.76 0.05\\
}\Hqmix
\pgfplotstableread[row sep=\\]{x y s\\
0 0.0 0.003\\ 1.9 0.0 0.005\\ 2.0 0.01 0.01\\ 2.1 0.02 0.02\\ 2.2 0.03 0.02\\ 2.3 0.02 0.02\\ 2.4 0.03 0.03\\ 2.5 0.02 0.02\\ 2.6 0.04 0.03\\ 2.7 0.03 0.02\\ 2.8 0.02 0.02\\ 2.9 0.03 0.02\\ 2.97 0.02 0.02\\
}\Hvdn
\pgfplotstableread[row sep=\\]{x y s\\
0 0.0 0.003\\ 1.0 0.0 0.003\\ 2.0 0.0 0.003\\ 2.97 0.0 0.003\\
}\Hiql

% band outlines for every series
\mkband\Aours\Aoursb \mkband\Acoma\Acomab \mkband\Aqmix\Aqmixb \mkband\Avdn\Avdnb \mkband\Aiql\Aiqlb
\mkband\Bours\Boursb \mkband\Bcoma\Bcomab \mkband\Bqmix\Bqmixb \mkband\Bvdn\Bvdnb \mkband\Biql\Biqlb
\mkband\Cours\Coursb \mkband\Ccoma\Ccomab \mkband\Cqmix\Cqmixb \mkband\Cvdn\Cvdnb \mkband\Ciql\Ciqlb
\mkband\Dours\Doursb \mkband\Dcoma\Dcomab \mkband\Dqmix\Dqmixb \mkband\Dvdn\Dvdnb \mkband\Diql\Diqlb
\mkband\Eours\Eoursb \mkband\Ecoma\Ecomab \mkband\Eqmix\Eqmixb \mkband\Evdn\Evdnb \mkband\Eiql\Eiqlb
\mkband\Fours\Foursb \mkband\Fcoma\Fcomab \mkband\Fqmix\Fqmixb \mkband\Fvdn\Fvdnb \mkband\Fiql\Fiqlb
\mkband\Gours\Goursb \mkband\Gcoma\Gcomab \mkband\Gqmix\Gqmixb \mkband\Gvdn\Gvdnb \mkband\Giql\Giqlb
\mkband\Hours\Hoursb \mkband\Hcoma\Hcomab \mkband\Hqmix\Hqmixb \mkband\Hvdn\Hvdnb \mkband\Hiql\Hiqlb

% #1 mean table, #2 band outline, #3 colour
\newcommand{\series}[3]{%
  \addplot[fill=#3, fill opacity=0.25, draw=none, forget plot] table[x=x, y=p] {#2} -- cycle;
  \addplot[#3, line width=0.8bp, forget plot] table[x=x, y=y] {#1};
}
% legend entry: colour, line start (bp), text start (bp), text
\newcommand{\legentry}[4]{%
  \draw[#1, line width=1.1bp] (#2bp,352bp) -- ++(23bp,0bp);
  \node[anchor=base west, inner sep=0pt, font=\bfseries\fontsize{10.5}{12}\selectfont] at (#3bp,348.5bp) {#4};
}

\pgfplotsset{
  panel/.style={
    scale only axis, width=138.6bp, height=135.5bp, anchor=south west,
    xmin=-0.15, xmax=3.13, ymin=-0.057, ymax=1.06,
    axis background/.style={fill=bgc},
    grid=major, major grid style={white, line width=0.9bp},
    axis line style={draw=none}, major tick length=0pt, tick style={draw=none},
    xtick={0,0.5,1,1.5,2,2.5,3}, xticklabels={0,0.5M,1M,1.5M,2M,2.5M,3M},
    ytick={0,0.2,0.4,0.6,0.8,1},
    yticklabel style={/pgf/number format/fixed, /pgf/number format/fixed zerofill, /pgf/number format/precision=1},
    /pgf/number format/assume math mode=true,
    font=\fontsize{8.8}{10}\selectfont,
    xticklabel shift=2.5bp, yticklabel shift=4bp,
    title style={yshift=-3.5bp},
  },
  noy/.style={yticklabels={}},
}

\begin{document}
\begin{tikzpicture}
\useasboundingbox (0,0) rectangle (625bp,358bp);

\begin{axis}[panel, at={(40.5bp,195.1bp)}, title={3m}]
\series\Aours\Aoursb{cours}
\series\Acoma\Acomab{ccoma}
\series\Aqmix\Aqmixb{cqmix}
\series\Avdn\Avdnb{cvdn}
\series\Aiql\Aiqlb{ciql}
\end{axis}

\begin{axis}[panel, noy, at={(187.9bp,195.1bp)}, title={8m}]
\series\Bours\Boursb{cours}
\series\Bcoma\Bcomab{ccoma}
\series\Bqmix\Bqmixb{cqmix}
\series\Bvdn\Bvdnb{cvdn}
\series\Biql\Biqlb{ciql}
\end{axis}

\begin{axis}[panel, noy, at={(335.3bp,195.1bp)}, title={3s5z}]
\series\Cours\Coursb{cours}
\series\Ccoma\Ccomab{ccoma}
\series\Cqmix\Cqmixb{cqmix}
\series\Cvdn\Cvdnb{cvdn}
\series\Ciql\Ciqlb{ciql}
\end{axis}

\begin{axis}[panel, noy, at={(482.7bp,195.1bp)}, title={1c3s5z}]
\series\Dours\Doursb{cours}
\series\Dcoma\Dcomab{ccoma}
\series\Dqmix\Dqmixb{cqmix}
\series\Dvdn\Dvdnb{cvdn}
\series\Diql\Diqlb{ciql}
\end{axis}

\begin{axis}[panel, at={(40.5bp,25.4bp)}, title={2m\_vs\_1z}]
\series\Eours\Eoursb{cours}
\series\Ecoma\Ecomab{ccoma}
\series\Eqmix\Eqmixb{cqmix}
\series\Evdn\Evdnb{cvdn}
\series\Eiql\Eiqlb{ciql}
\end{axis}

\begin{axis}[panel, noy, at={(187.9bp,25.4bp)}, title={3s\_vs\_3z}]
\series\Fours\Foursb{cours}
\series\Fcoma\Fcomab{ccoma}
\series\Fqmix\Fqmixb{cqmix}
\series\Fvdn\Fvdnb{cvdn}
\series\Fiql\Fiqlb{ciql}
\end{axis}

\begin{axis}[panel, noy, at={(335.3bp,25.4bp)}, title={2c\_vs\_64zg}]
\series\Gours\Goursb{cours}
\series\Gcoma\Gcomab{ccoma}
\series\Gqmix\Gqmixb{cqmix}
\series\Gvdn\Gvdnb{cvdn}
\series\Giql\Giqlb{ciql}
\end{axis}

\begin{axis}[panel, noy, at={(482.7bp,25.4bp)}, title={MMM2}]
\series\Hours\Hoursb{cours}
\series\Hcoma\Hcomab{ccoma}
\series\Hqmix\Hqmixb{cqmix}
\series\Hvdn\Hvdnb{cvdn}
\series\Hiql\Hiqlb{ciql}
\end{axis}

% figure legend
\legentry{cours}{145}{173.5}{ours}
\legentry{ccoma}{213}{241.5}{COMA}
\legentry{cqmix}{297}{325.5}{QMIX}
\legentry{cvdn}{373.5}{402}{VDN}
\legentry{ciql}{444.5}{472}{IQL}

\node[rotate=90, font=\bfseries\fontsize{9.5}{11}\selectfont] at (10bp,186bp) {Average Win Rate};
\node[font=\bfseries\fontsize{9.5}{11}\selectfont] at (330bp,5.5bp) {Steps};
\end{tikzpicture}
\end{document}
